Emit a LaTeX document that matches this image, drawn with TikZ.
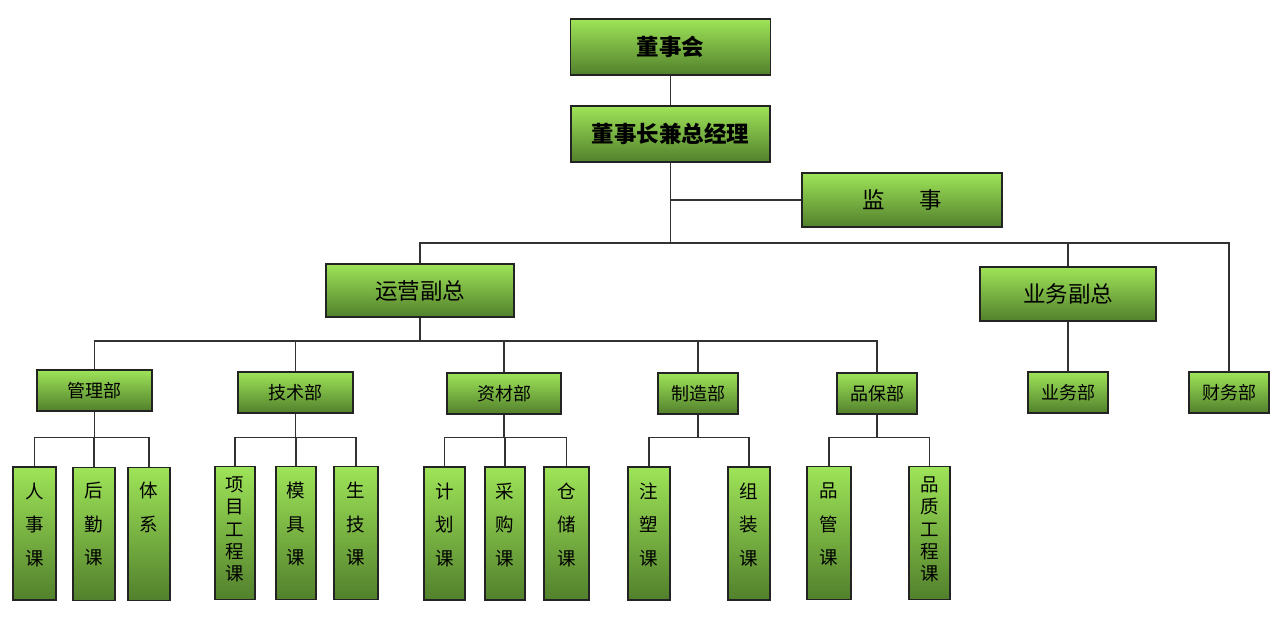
\documentclass[tikz,border=0pt]{standalone}
\usepackage{fontspec}
\setmainfont{Noto Sans CJK SC}
\usetikzlibrary{calc}
\definecolor{gtop}{RGB}{158,228,88}
\definecolor{gbot}{RGB}{82,128,44}
\definecolor{lc}{RGB}{50,50,50}
\definecolor{bc}{RGB}{35,35,35}
\newcommand\vtxt[3]{\begin{minipage}[c][133pt][t]{34pt}\centering\fontsize{18.5}{#1}\selectfont\vspace*{#2pt}\rule{0pt}{17pt}#3\end{minipage}}
\tikzset{
  gbox/.style={draw=bc, line width=1.3pt, top color=gtop, bottom color=gbot, inner sep=0pt, text=black},
  sz/.style 2 args={minimum width=#1pt, minimum height=#2pt},
  bigb/.style={gbox, font=\fontsize{22.5}{22.5}\selectfont\bfseries},
  midb/.style={gbox, font=\fontsize{22.5}{22.5}\selectfont},
  deptb/.style={gbox, font=\fontsize{18}{18}\selectfont},
  subb/.style={gbox},
  conn/.style={draw=lc, line width=1.6pt}
}
\begin{document}
\begin{tikzpicture}[x=1pt,y=-1pt]
\useasboundingbox (0,0) rectangle (1285,635);
\coordinate (b1) at (0,243);
\coordinate (b2) at (0,341);
\coordinate (b3) at (0,437.5);
% top
\node[bigb, sz={200}{56}] (dsh) at (670.5,47) {董事会};
\node[bigb, sz={199}{56}] (zjl) at (670.5,134) {董事长兼总经理};
\node[midb, sz={200}{54}] (js) at (902,200) {监\hspace{34pt}事};
\node[midb, sz={188}{53}] (yy) at (420,290.5) {运营副总};
\node[midb, sz={176}{54}] (yw) at (1068,294) {业务副总};
\node[deptb, sz={80}{41}] (cw) at (1229,392.5) {财务部};
\node[deptb, sz={80}{41}] (ywb) at (1068,392.5) {业务部};
% departments
\node[deptb, sz={115}{41}] (glb) at (94.5,390.5) {管理部};
\node[deptb, sz={115}{41}] (jsb) at (295.5,392.5) {技术部};
\node[deptb, sz={114}{41}] (zcb) at (504,393.5) {资材部};
\node[deptb, sz={80}{41}] (zzb) at (698,393.5) {制造部};
\node[deptb, sz={80}{41}] (pbb) at (877,393.5) {品保部};
% sections
\node[subb, minimum width=43pt] (rs) at (34.5,533.5) {\vtxt{33.5}{14}{人\\事\\课}};
\node[subb, minimum width=42pt] (hq) at (94,534) {\vtxt{33.5}{13}{后\\勤\\课}};
\node[subb, minimum width=42pt] (tx) at (149,534) {\vtxt{33.5}{13}{体\\系}};
\node[subb, minimum width=40pt] (xm) at (235,533) {\vtxt{22.3}{8}{项\\目\\工\\程\\课}};
\node[subb, minimum width=40pt] (mj) at (296,533) {\vtxt{33.5}{14}{模\\具\\课}};
\node[subb, minimum width=44pt] (sj) at (356,533) {\vtxt{33.5}{14}{生\\技\\课}};
\node[subb, minimum width=41pt] (jh) at (444.5,533.5) {\vtxt{33.5}{14}{计\\划\\课}};
\node[subb, minimum width=40pt] (cg) at (505,533.5) {\vtxt{33.5}{14}{采\\购\\课}};
\node[subb, minimum width=45pt] (cc) at (566.5,533.5) {\vtxt{33.5}{14}{仓\\储\\课}};
\node[subb, minimum width=42pt] (zs) at (649,533.5) {\vtxt{33.5}{14}{注\\塑\\课}};
\node[subb, minimum width=42pt] (zz) at (749,533.5) {\vtxt{33.5}{14}{组\\装\\课}};
\node[subb, minimum width=44pt] (pg) at (829,533) {\vtxt{33.5}{14}{品\\管\\课}};
\node[subb, minimum width=41pt] (pz) at (929.5,533) {\vtxt{22.3}{8}{品\\质\\工\\程\\课}};
% connectors level 0-1
\draw[conn] (dsh.south) -- (dsh.south |- zjl.north);
\draw[conn] (zjl.south) -- (zjl.south |- b1);
\draw[conn] (js.west) -- (js.west -| zjl.south);
\draw[conn] (yy.north) |- (b1 -| cw.north) -- (cw.north);
\draw[conn] (yw.north) -- (yw.north |- b1);
\draw[conn] (yw.south) -- (yw.south |- ywb.north);
% level 2
\draw[conn] (yy.south) -- (yy.south |- b2);
\draw[conn] (glb.north) |- (b2 -| pbb.north) -- (pbb.north);
\draw[conn] (jsb.north) -- (jsb.north |- b2);
\draw[conn] (zcb.north) -- (zcb.north |- b2);
\draw[conn] (zzb.north) -- (zzb.north |- b2);
% level 3
\draw[conn] (glb.south) -- (glb.south |- b3);
\draw[conn] (rs.north) |- (b3 -| tx.north) -- (tx.north);
\draw[conn] (hq.north) -- (hq.north |- b3);
\draw[conn] (jsb.south) -- (jsb.south |- b3);
\draw[conn] (xm.north) |- (b3 -| sj.north) -- (sj.north);
\draw[conn] (mj.north) -- (mj.north |- b3);
\draw[conn] (zcb.south) -- (zcb.south |- b3);
\draw[conn] (jh.north) |- (b3 -| cc.north) -- (cc.north);
\draw[conn] (cg.north) -- (cg.north |- b3);
\draw[conn] (zzb.south) -- (zzb.south |- b3);
\draw[conn] (zs.north) |- (b3 -| zz.north) -- (zz.north);
\draw[conn] (pbb.south) -- (pbb.south |- b3);
\draw[conn] (pg.north) |- (b3 -| pz.north) -- (pz.north);
\end{tikzpicture}
\end{document}
